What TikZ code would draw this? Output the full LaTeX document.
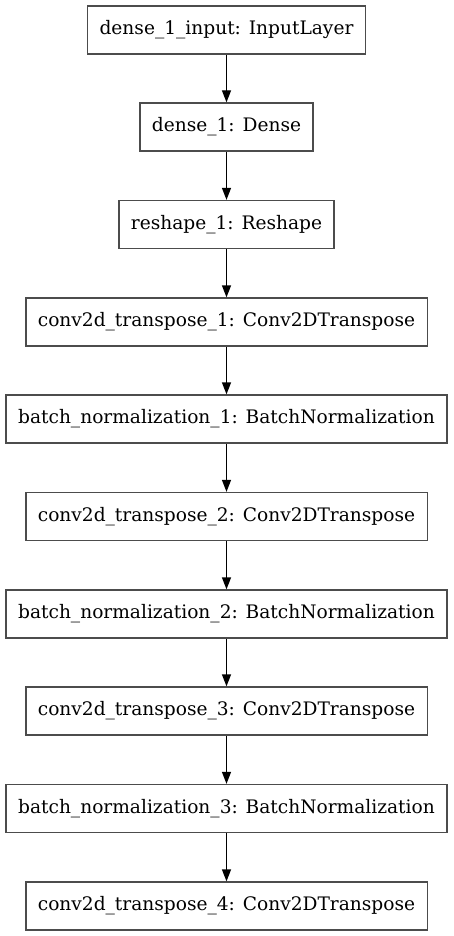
\documentclass[tikz,border=0pt]{standalone}
\usepackage{fontspec}
\setmainfont{DejaVu Serif}
\usetikzlibrary{arrows.meta}

\begin{document}
\begin{tikzpicture}[
    x=1pt, y=1pt,
    >={Triangle[length=12pt, width=9pt]},
    every node/.style={rectangle, draw=black!70, line width=1.3pt, inner xsep=12pt,
                       minimum height=48pt, font=\fontsize{18.6}{22}\selectfont},
    every edge/.style={draw, line width=1.3pt},
]
  \useasboundingbox (0,0) rectangle (453,-936);
  \node []   (inp) at  (226.5, -30  )  {dense\_1\_input: InputLayer};
  \node []   (den) at  (226.5, -127 )  {dense\_1: Dense}                                edge [<-] (inp);
  \node []   (res) at  (226.5, -224.5) {reshape\_1: Reshape}                            edge [<-] (den);
  \node []   (ct1) at  (226.5, -322 )  {conv2d\_transpose\_1: Conv2DTranspose}          edge [<-] (res);
  \node []   (bn1) at  (226.5, -419 )  {batch\_normalization\_1: BatchNormalization}    edge [<-] (ct1);
  \node []   (ct2) at  (226.5, -516.5) {conv2d\_transpose\_2: Conv2DTranspose}          edge [<-] (bn1);
  \node []   (bn2) at  (226.5, -614 )  {batch\_normalization\_2: BatchNormalization}    edge [<-] (ct2);
  \node []   (ct3) at  (226.5, -711 )  {conv2d\_transpose\_3: Conv2DTranspose}          edge [<-] (bn2);
  \node []   (bn3) at  (226.5, -808.5) {batch\_normalization\_3: BatchNormalization}    edge [<-] (ct3);
  \node []   (ct4) at  (226.5, -906 )  {conv2d\_transpose\_4: Conv2DTranspose}          edge [<-] (bn3);
\end{tikzpicture}
\end{document}
